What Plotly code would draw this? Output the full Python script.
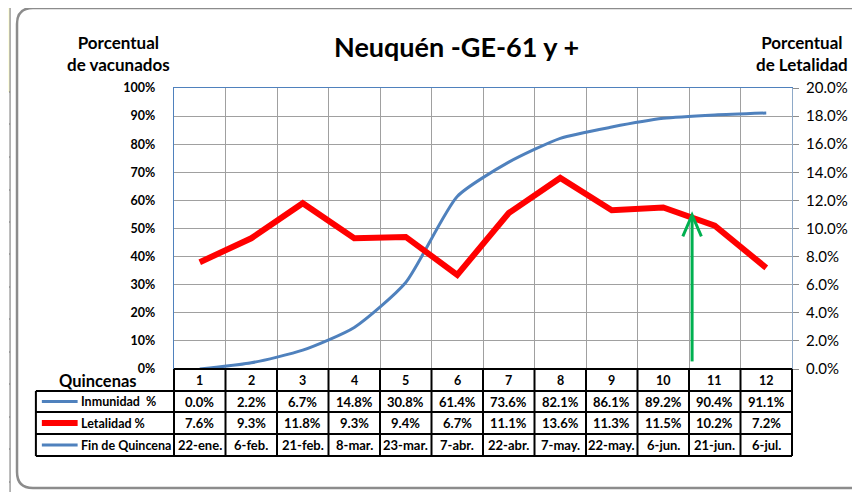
import plotly.graph_objects as go

quincenas = [1, 2, 3, 4, 5, 6, 7, 8, 9, 10, 11, 12]
inmunidad = [0.0, 2.2, 6.7, 14.8, 30.8, 61.4, 73.6, 82.1, 86.1, 89.2, 90.4, 91.1]
letalidad = [7.6, 9.3, 11.8, 9.3, 9.4, 6.7, 11.1, 13.6, 11.3, 11.5, 10.2, 7.2]
fechas = ["22-ene.", "6-feb.", "21-feb.", "8-mar.", "23-mar.", "7-abr.",
          "22-abr.", "7-may.", "22-may.", "6-jun.", "21-jun.", "6-jul."]
row_labels = ["Inmunidad\u00a0 %", "Letalidad %", "Fin de Quincena"]
left_ticks = [0, 0.1, 0.2, 0.3, 0.4, 0.5, 0.6, 0.7, 0.8, 0.9, 1.0]
right_ticks = [0, 0.02, 0.04, 0.06, 0.08, 0.10, 0.12, 0.14, 0.16, 0.18, 0.20]

# the page body has an 8px default margin: layout is specified in screen pixels
OFF = 8
W, H = 860 - OFF, 492 - OFF
L, R, T, B = 174, 796, 88, 369   # plot area in screen pixels
FONT = "Lato"
BLUE = "#4F81BD"
RED = "#FF0000"


def fx(px):
    return (px - L) / (R - L)


def fy(py):
    return (B - py) / (B - T)


def P(px, py):
    return f"{fx(px):.5f},{fy(py):.5f}"


fig = go.Figure()
fig.add_trace(go.Scatter(
    x=quincenas, y=[v / 100 for v in inmunidad], mode="lines",
    line=dict(color=BLUE, width=3, shape="spline", smoothing=0.6),
    yaxis="y", showlegend=False, hoverinfo="skip"))
fig.add_trace(go.Scatter(
    x=quincenas, y=[v / 100 for v in letalidad], mode="lines",
    line=dict(color=RED, width=6),
    yaxis="y2", showlegend=False, hoverinfo="skip"))

shapes = []
# outer rounded chart border
shapes.append(dict(type="path", xref="paper", yref="paper",
                   path=f"M {P(875, 8)} L {P(32, 8)} Q {P(16, 8)} {P(16, 24)} L {P(16, 472)} Q {P(16, 488)} {P(32, 488)} L {P(875, 488)}",
                   line=dict(color="#8C8C8C", width=2.5)))
# spreadsheet strip on the left
shapes.append(dict(type="rect", xref="paper", yref="paper", x0=fx(OFF - 1), x1=fx(9), y0=fy(OFF - 1), y1=fy(92),
                   fillcolor="#FFFFE0", line=dict(width=0), layer="below"))
shapes.append(dict(type="line", xref="paper", yref="paper", x0=fx(9), x1=fx(9), y0=fy(OFF), y1=fy(492),
                   line=dict(color="#707070", width=1)))
for gy in [92, 124, 157, 190, 222, 254, 287, 319, 352, 384, 417, 449, 482]:
    shapes.append(dict(type="line", xref="paper", yref="paper", x0=fx(OFF), x1=fx(9), y0=fy(gy), y1=fy(gy),
                       line=dict(color="#707070", width=1)))

# data table grid
rows = [369, 391, 412, 434, 456]
cols = [L + i * (R - L) / 12 for i in range(13)]
TL = 35
for i, ry in enumerate(rows):
    x0 = L if i == 0 else TL
    shapes.append(dict(type="line", xref="paper", yref="paper", x0=fx(x0), x1=fx(R), y0=fy(ry), y1=fy(ry),
                       line=dict(color="black", width=2)))
for cx in cols:
    shapes.append(dict(type="line", xref="paper", yref="paper", x0=fx(cx), x1=fx(cx), y0=fy(369), y1=fy(456),
                       line=dict(color="black", width=2)))
shapes.append(dict(type="line", xref="paper", yref="paper", x0=fx(TL), x1=fx(TL), y0=fy(391), y1=fy(456),
                   line=dict(color="black", width=2)))
# legend keys in the table
key_styles = [(BLUE, 3), (RED, 6), (BLUE, 3)]
row_centers = [401.5, 423, 445]
for (col, w), ry in zip(key_styles, row_centers):
    shapes.append(dict(type="line", xref="paper", yref="paper", x0=fx(41), x1=fx(77), y0=fy(ry), y1=fy(ry),
                       line=dict(color=col, width=w)))

# green arrow (between quincena 10 and 11)
ax = 10.56
shapes.append(dict(type="line", xref="x", yref="y", x0=ax, x1=ax, y0=0.027, y1=0.545,
                   line=dict(color="#00B050", width=3)))
shapes.append(dict(type="path", xref="x", yref="y",
                   path=f"M {ax - 0.18},0.472 L {ax},0.548 L {ax + 0.18},0.472",
                   line=dict(color="#00B050", width=3)))


def txt(text, x, y, size, xref="paper", xanchor="center", bold=True):
    return dict(text=f"<b>{text}</b>" if bold else text, xref=xref, yref="paper", x=x, y=y,
                xanchor=xanchor, yanchor="middle", showarrow=False,
                font=dict(family=FONT, size=size, color="black"))


ann = []
ann.append(txt("Neuquén -GE-61 y +", fx(458), fy(47), 27))
ann.append(txt("Porcentual<br>de vacunados", fx(118), fy(53), 17))
ann.append(txt("Porcentual<br>de Letalidad", fx(806), fy(53), 17))
ann.append(txt("Quincenas", fx(98), fy(381), 16.5))
for q in quincenas:
    ann.append(txt(str(q), q, fy(380), 12.5, xref="x"))
row_texts = [[f"{v:.1f}%" for v in inmunidad], [f"{v:.1f}%" for v in letalidad], fechas]
for ry, texts in zip(row_centers, row_texts):
    for q, t in zip(quincenas, texts):
        ann.append(txt(t, q, fy(ry), 13, xref="x"))
for ry, lab in zip(row_centers, row_labels):
    ann.append(txt(lab, fx(78), fy(ry), 12.5, xanchor="left"))

fig.update_layout(
    width=W, height=H,
    margin=dict(l=L - OFF, r=W - (R - OFF), t=T - OFF, b=H - (B - OFF)),
    paper_bgcolor="white", plot_bgcolor="white",
    shapes=shapes, annotations=ann,
    xaxis=dict(range=[0.5, 12.5], tickmode="array", tickvals=[i + 0.5 for i in range(1, 12)],
               showticklabels=False, ticks="", showgrid=True, gridcolor="#A0A0A0", gridwidth=1.3,
               showline=True, linecolor=BLUE, linewidth=1.3, mirror=True, zeroline=False),
    yaxis=dict(range=[0, 1], tickmode="array", tickvals=left_ticks, tickformat=".0%",
               showgrid=True, gridcolor="#A0A0A0", gridwidth=1.3, zeroline=False,
               showline=True, linecolor=BLUE, linewidth=1.3, mirror=True, ticks="",
               ticklabelstandoff=15,
               tickfont=dict(family=FONT, size=12.5, color="black", weight="bold")),
    yaxis2=dict(range=[0, 0.2], overlaying="y", side="right", tickmode="array", tickvals=right_ticks,
                tickformat=".1%", showgrid=False, zeroline=False, showline=True, linecolor="#8EA9C8",
                ticks="outside", ticklen=6, tickcolor="#8C8C8C", ticklabelstandoff=4,
                tickfont=dict(family=FONT, size=15, color="black")),
)

fig.write_html("out.html")
